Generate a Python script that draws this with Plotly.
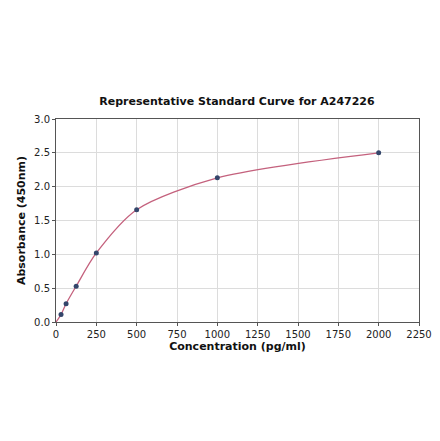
import plotly.graph_objects as go

conc = [0, 31.25, 62.5, 125, 250, 500, 1000, 2000]
absorb = [0.0, 0.11, 0.27, 0.53, 1.02, 1.66, 2.13, 2.50]
pts_x = conc[1:]
pts_y = absorb[1:]
x_ticks = [0, 250, 500, 750, 1000, 1250, 1500, 1750, 2000, 2250]
y_ticks = [0.0, 0.5, 1.0, 1.5, 2.0, 2.5, 3.0]

font = "DejaVu Sans"
fig = go.Figure()
fig.add_trace(go.Scatter(x=conc, y=absorb, mode="lines",
                         line=dict(color="#c4617d", width=1.3, shape="spline", smoothing=0.8),
                         hoverinfo="skip", showlegend=False))
fig.add_trace(go.Scatter(x=pts_x, y=pts_y, mode="markers",
                         marker=dict(color="#34466b", size=5),
                         showlegend=False))

fig.update_layout(
    width=440, height=441,
    margin=dict(l=48, r=29, t=111, b=127, autoexpand=False),
    paper_bgcolor="white", plot_bgcolor="white",
    font=dict(family=font, size=10, color="#222222"),
    title=dict(text="<b>Representative Standard Curve for A247226</b>",
               x=(236 - 7) / 440, xanchor="center", y=1 - 93 / 441, yanchor="middle",
               xref="container", yref="container",
               font=dict(family=font, size=11, color="#111111")),
)
fig.update_xaxes(range=[0, 2250], tickvals=x_ticks, ticktext=[str(v) for v in x_ticks],
                 showgrid=True, gridcolor="#dcdcdc", gridwidth=1,
                 showline=True, linecolor="#555555", linewidth=1, mirror=True,
                 ticks="outside", ticklen=3, tickcolor="#555555",
                 zeroline=False,
                 title=dict(text="<b>Concentration (pg/ml)</b>", standoff=3,
                            font=dict(family=font, size=11, color="#111111")))
fig.update_yaxes(range=[0, 3.0], tickvals=y_ticks, ticktext=[f"{v:.1f}" for v in y_ticks],
                 showgrid=True, gridcolor="#dcdcdc", gridwidth=1,
                 showline=True, linecolor="#555555", linewidth=1, mirror=True,
                 ticks="outside", ticklen=3, tickcolor="#555555",
                 zeroline=False,
                 title=dict(text="<b>Absorbance (450nm)</b>", standoff=6,
                            font=dict(family=font, size=11, color="#111111")))

fig.write_html("out.html")
